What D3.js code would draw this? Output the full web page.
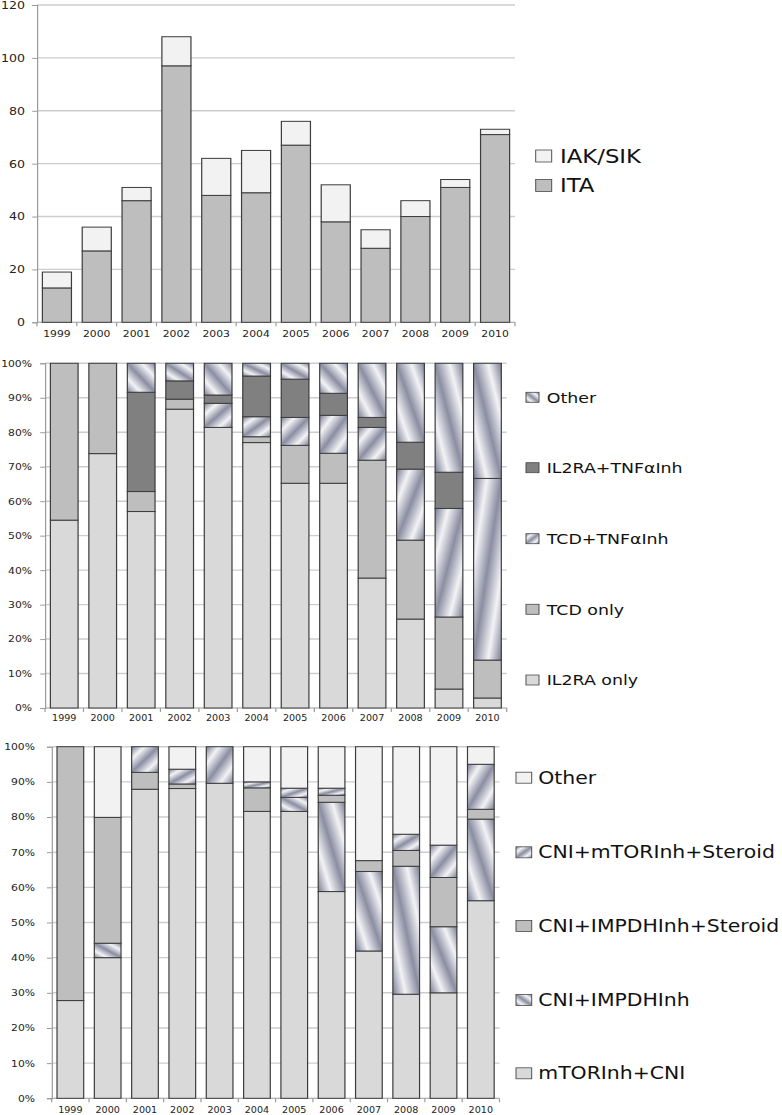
<!DOCTYPE html>
<html>
<head>
<meta charset="utf-8">
<script src="https://cdn.jsdelivr.net/npm/d3@7"></script>
<style>
  body { margin: 0; background: #fff; }
  text { font-family: "DejaVu Sans", sans-serif; fill: #222; }
</style>
</head>
<body>
<div id="chart"></div>
<script>
const years = ['1999', '2000', '2001', '2002', '2003', '2004', '2005', '2006', '2007', '2008', '2009', '2010'];

// panel 1: number of transplants
const itaCount = [13, 27, 46, 97, 48, 49, 67, 38, 28, 40, 51, 71];
const iakSikCount = [6, 9, 5, 11, 14, 16, 9, 14, 7, 6, 3, 2];
const countTicks = [0, 20, 40, 60, 80, 100, 120];

// panel 2: induction (% of cases)
const il2raOnly = [54.5, 73.8, 57.0, 86.7, 81.4, 77.0, 65.2, 65.2, 37.7, 25.8, 5.5, 2.9];
const tcdOnly = [45.5, 26.2, 5.8, 2.9, 0, 1.7, 11.0, 8.7, 34.2, 22.9, 20.9, 11.0];
const tcdTnf = [0, 0, 0, 0, 7.0, 5.8, 8.1, 11.0, 9.5, 20.6, 31.5, 52.7];
const il2raTnf = [0, 0, 28.8, 5.3, 2.4, 11.8, 11.1, 6.4, 2.9, 7.8, 10.5, 0];
const inductionOther = [0, 0, 8.4, 5.1, 9.2, 3.7, 4.6, 8.7, 15.7, 22.9, 31.6, 33.4];

// panel 3: maintenance (% of cases)
const mtorCni = [27.8, 40.0, 87.9, 88.1, 89.6, 81.6, 81.6, 58.8, 41.9, 29.6, 30.0, 56.2];
const cniImpdh = [0, 4.1, 0, 0, 0, 0, 4.0, 25.4, 22.6, 36.4, 18.8, 23.2];
const cniImpdhSteroid = [72.2, 35.8, 4.8, 1.3, 0, 6.7, 0, 2.0, 3.1, 4.5, 14.0, 2.8];
const cniMtorSteroid = [0, 0, 7.3, 4.2, 10.4, 1.7, 2.6, 2.0, 0, 4.6, 9.2, 12.8];
const maintenanceOther = [0, 20.1, 0, 6.4, 0, 10.0, 11.8, 11.8, 32.4, 24.9, 28.0, 5.0];
const pctTicks = [0, 10, 20, 30, 40, 50, 60, 70, 80, 90, 100];

// the original picture is stretched sideways, so everything is drawn in a scaled group
const sx = 1.2;

const svg = d3.select('#chart').append('svg')
  .attr('width', 782)
  .attr('height', 1115);

const defs = svg.append('defs');
function addGradient(id, x1, y1, x2, y2) {
  const g = defs.append('linearGradient')
    .attr('id', id)
    .attr('x1', x1).attr('y1', y1).attr('x2', x2).attr('y2', y2);
  [[0, '#7c7f94'], [0.24, '#f3f3f6'], [0.5, '#8b8ea2'], [0.76, '#f3f3f6'], [1, '#7c7f94']]
    .forEach(s => g.append('stop').attr('offset', s[0]).attr('stop-color', s[1]));
}
addGradient('stripeBack', 1, 0, 0, 1);   // "\" bands
addGradient('stripeFwd', 0, 0, 1, 1);    // "/" bands

const root = svg.append('g').attr('transform', 'scale(' + sx + ',1)');

function drawPanel(cfg) {
  const g = root.append('g');
  const rows = years.map((yr, i) => {
    const r = { year: yr };
    cfg.keys.forEach((k, j) => (r[k] = cfg.values[j][i]));
    return r;
  });
  const stacked = d3.stack().keys(cfg.keys)(rows);

  const x = d3.scaleBand()
    .domain(years)
    .range([cfg.left / sx, cfg.right / sx])
    .paddingInner(cfg.pad)
    .paddingOuter(cfg.pad / 2);
  const y = d3.scaleLinear().domain([0, cfg.yMax]).range([cfg.bottom, cfg.top]);

  // gridlines
  g.append('g')
    .selectAll('line')
    .data(cfg.ticks.filter(t => t > 0))
    .enter()
    .append('line')
    .attr('x1', cfg.left / sx)
    .attr('x2', cfg.right / sx)
    .attr('y1', d => y(d))
    .attr('y2', d => y(d))
    .attr('stroke', '#cdcdcd')
    .attr('stroke-width', 1.4);

  // y axis
  const yAxis = g.append('g')
    .attr('transform', 'translate(' + cfg.left / sx + ',0)')
    .call(d3.axisLeft(y).tickValues(cfg.ticks).tickSize(4)
      .tickPadding((cfg.left - cfg.labelEnd) / sx - 4)
      .tickFormat(cfg.fmt));
  yAxis.selectAll('text').style('font-size', cfg.yFont + 'px').style('fill', '#222');
  yAxis.selectAll('line, path').attr('stroke', '#9a9a9a');

  // x axis: ticks sit on the band boundaries
  const xAxis = g.append('g').attr('transform', 'translate(0,' + cfg.bottom + ')');
  xAxis.append('line')
    .attr('x1', cfg.left / sx).attr('x2', cfg.right / sx)
    .attr('stroke', '#9a9a9a');
  const step = x.step();
  xAxis.selectAll('.bt')
    .data(d3.range(years.length + 1))
    .enter()
    .append('line')
    .attr('class', 'bt')
    .attr('x1', i => cfg.left / sx + i * step)
    .attr('x2', i => cfg.left / sx + i * step)
    .attr('y2', 4)
    .attr('stroke', '#9a9a9a');
  xAxis.selectAll('text')
    .data(years)
    .enter()
    .append('text')
    .attr('x', d => x(d) + x.bandwidth() / 2)
    .attr('y', cfg.xLabelY - cfg.bottom)
    .attr('dy', '0.35em')
    .attr('text-anchor', 'middle')
    .style('font-size', cfg.xFont + 'px')
    .text(d => d);

  // bars
  g.append('g')
    .selectAll('g')
    .data(stacked)
    .enter()
    .append('g')
    .attr('fill', d => cfg.fills[d.key])
    .selectAll('rect')
    .data(d => d.filter(s => s[1] - s[0] > 0))
    .enter()
    .append('rect')
    .attr('x', d => x(d.data.year))
    .attr('width', x.bandwidth())
    .attr('y', d => y(d[1]))
    .attr('height', d => y(d[0]) - y(d[1]))
    .attr('stroke', '#3c3c3c')
    .attr('stroke-width', 1);

  // legend, top series first
  const lg = g.append('g');
  const items = cfg.keys.slice().reverse();
  items.forEach((k, i) => {
    const cy = cfg.legend.ys[i];
    lg.append('rect')
      .attr('x', cfg.legend.x / sx)
      .attr('y', cy - cfg.legend.h / 2)
      .attr('width', cfg.legend.w / sx)
      .attr('height', cfg.legend.h)
      .attr('fill', cfg.fills[k])
      .attr('stroke', '#4a4a4a')
      .attr('stroke-width', 0.8);
    lg.append('text')
      .attr('x', cfg.legend.textX / sx)
      .attr('y', cy)
      .attr('dy', '0.36em')
      .style('font-size', cfg.legend.font + 'px')
      .style('fill', '#111')
      .text(k);
  });
}

drawPanel({
  keys: ['ITA', 'IAK/SIK'],
  values: [itaCount, iakSikCount],
  fills: { 'ITA': '#bebebe', 'IAK/SIK': '#f2f2f2' },
  left: 37, right: 515, top: 5, bottom: 322.3,
  yMax: 120, ticks: countTicks, fmt: d => d,
  labelEnd: 25, yFont: 10.5, xFont: 9, xLabelY: 334,
  pad: 0.27,
  legend: { x: 535.7, w: 16, h: 12, textX: 560, ys: [156, 185.5], font: 19 }
});

drawPanel({
  keys: ['IL2RA only', 'TCD only', 'TCD+TNFαInh', 'IL2RA+TNFαInh', 'Other'],
  values: [il2raOnly, tcdOnly, tcdTnf, il2raTnf, inductionOther],
  fills: {
    'IL2RA only': '#d9d9d9',
    'TCD only': '#bebebe',
    'TCD+TNFαInh': 'url(#stripeFwd)',
    'IL2RA+TNFαInh': '#808080',
    'Other': 'url(#stripeBack)'
  },
  left: 45, right: 506.7, top: 363.3, bottom: 708,
  yMax: 100, ticks: pctTicks, fmt: d => d + '%',
  labelEnd: 32, yFont: 9, xFont: 8, xLabelY: 718.5,
  pad: 0.28,
  legend: { x: 526, w: 13, h: 10, textX: 546.7, ys: [397.3, 467.7, 538.7, 609.3, 680], font: 14.5 }
});

drawPanel({
  keys: ['mTORInh+CNI', 'CNI+IMPDHInh', 'CNI+IMPDHInh+Steroid', 'CNI+mTORInh+Steroid', 'Other'],
  values: [mtorCni, cniImpdh, cniImpdhSteroid, cniMtorSteroid, maintenanceOther],
  fills: {
    'mTORInh+CNI': '#d9d9d9',
    'CNI+IMPDHInh': 'url(#stripeBack)',
    'CNI+IMPDHInh+Steroid': '#bebebe',
    'CNI+mTORInh+Steroid': 'url(#stripeFwd)',
    'Other': '#f2f2f2'
  },
  left: 51.7, right: 499.5, top: 746.7, bottom: 1098.3,
  yMax: 100, ticks: pctTicks, fmt: d => d + '%',
  labelEnd: 35, yFont: 9, xFont: 8, xLabelY: 1110,
  pad: 0.285,
  legend: { x: 516, w: 15.7, h: 11, textX: 538.3, ys: [777.7, 852.3, 926, 1000, 1073.3], font: 17 }
});
</script>
</body>
</html>
